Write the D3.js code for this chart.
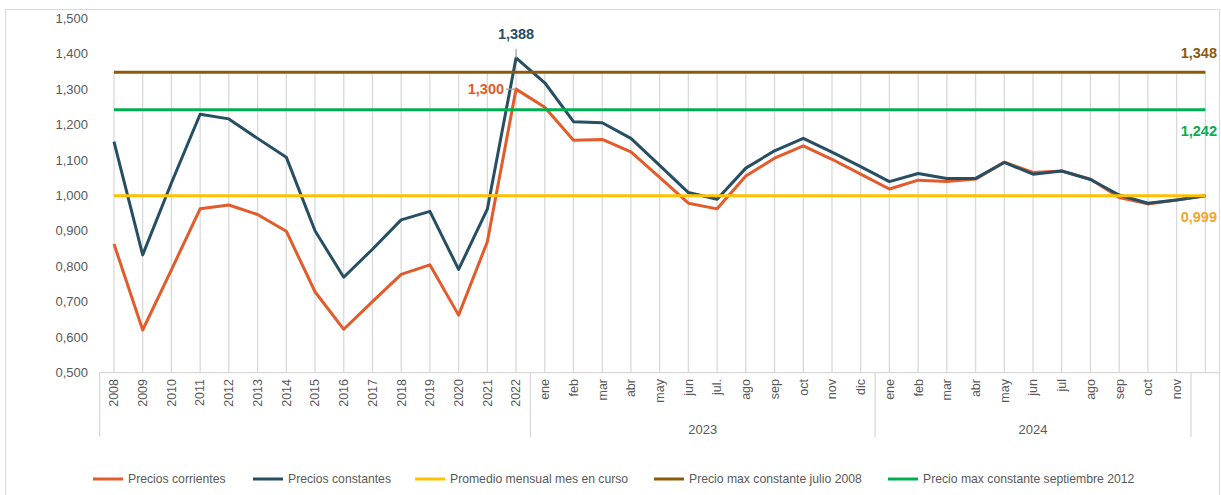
<!DOCTYPE html>
<html>
<head>
<meta charset="utf-8">
<script src="https://cdn.jsdelivr.net/npm/d3@7"></script>
<style>
  body { margin: 0; background: #fff; }
  text { font-family: "Liberation Sans", Arial, sans-serif; }
</style>
</head>
<body>
<div id="chart"></div>
<script>
// categories: yearly then monthly, last one has no label
var years = ["2008","2009","2010","2011","2012","2013","2014","2015","2016","2017","2018","2019","2020","2021","2022"];
var months2023 = ["ene","feb","mar","abr","may","jun","jul.","ago","sep","oct","nov","dic"];
var months2024 = ["ene","feb","mar","abr","may","jun","jul","ago","sep","oct","nov"];
var extra = [""];
var labels = years.concat(months2023, months2024, extra);

var corrientes = [0.863,0.620,0.790,0.962,0.973,0.946,0.899,0.728,0.622,0.700,0.777,0.804,0.662,0.869,1.300,
  1.249,1.156,1.158,1.123,1.051,0.978,0.962,1.055,1.105,1.140,1.102,1.060,
  1.018,1.043,1.039,1.046,1.094,1.065,1.069,1.046,0.994,0.976,0.987,
  0.999];
var constantes = [1.152,0.832,1.035,1.229,1.216,1.161,1.108,0.900,0.769,0.848,0.931,0.955,0.791,0.961,1.388,
  1.318,1.208,1.205,1.161,1.085,1.008,0.989,1.077,1.126,1.161,1.122,1.081,
  1.039,1.062,1.048,1.048,1.093,1.060,1.069,1.045,1.001,0.978,0.987,
  0.999];
var promedioMes = 0.999;
var maxJulio2008 = 1.348;
var maxSept2012 = 1.242;
var yTicks = [0.5,0.6,0.7,0.8,0.9,1.0,1.1,1.2,1.3,1.4,1.5];

var W = 1221, H = 495;
var svg = d3.select("#chart").append("svg").attr("width", W).attr("height", H);

// chart border
svg.append("rect").attr("x", 5.5).attr("y", 9.5).attr("width", 1214).attr("height", 500)
  .attr("fill", "none").attr("stroke", "#d9d9d9");

var idx = d3.range(labels.length);
var x = d3.scalePoint().domain(idx).range([99.6, 1219.7]).padding(0.5);
var y = d3.scaleLinear().domain([0.5, 1.5]).range([372.5, 18.3]);
var step = x.step();

var loc = d3.formatLocale({decimal: ",", thousands: ".", grouping: [3], currency: ["", ""]});
var fmt = loc.format(".3f");

var refLines = [
  {name: "Promedio mensual mes en curso", v: promedioMes, color: "#ffc000"},
  {name: "Precio max constante julio 2008", v: maxJulio2008, color: "#8c5a0a"},
  {name: "Precio max constante septiembre 2012", v: maxSept2012, color: "#00b050"}
];

// drop lines from highest value down to axis
svg.append("g").selectAll("line").data(idx).enter().append("line")
  .attr("x1", function(i) { return x(i); })
  .attr("x2", function(i) { return x(i); })
  .attr("y1", function(i) { return y(Math.max(corrientes[i], constantes[i], maxJulio2008)); })
  .attr("y2", y(0.5))
  .attr("stroke", "#d9d9d9").attr("stroke-width", 1.3);

// y axis labels
svg.append("g").selectAll("text").data(yTicks).enter().append("text")
  .attr("x", 88).attr("y", function(d) { return y(d); }).attr("dy", "0.35em")
  .attr("text-anchor", "end").attr("font-size", 13).attr("fill", "#595959")
  .text(function(d) { return fmt(d); });

// category axis
svg.append("line").attr("x1", 99.6).attr("x2", 1219.7).attr("y1", 372.7).attr("y2", 372.7)
  .attr("stroke", "#d9d9d9").attr("stroke-width", 1.3);
var dividers = [99.6, x(14) + step / 2, x(26) + step / 2, x(37) + step / 2];
svg.append("g").selectAll("line").data(dividers).enter().append("line")
  .attr("x1", function(d) { return d; }).attr("x2", function(d) { return d; })
  .attr("y1", 372.7).attr("y2", 437)
  .attr("stroke", "#d9d9d9").attr("stroke-width", 1.3);

svg.append("g").selectAll("text").data(idx).enter().append("text")
  .attr("transform", function(i) { return "translate(" + x(i) + ",379) rotate(-90)"; })
  .attr("dy", "0.35em").attr("text-anchor", "end")
  .attr("font-size", 12.5).attr("fill", "#595959")
  .text(function(i) { return labels[i]; });

var groups = [{label: "2023", a: 15, b: 26}, {label: "2024", a: 27, b: 37}];
svg.append("g").selectAll("text").data(groups).enter().append("text")
  .attr("x", function(g) { return (x(g.a) + x(g.b)) / 2; })
  .attr("y", 429).attr("dy", "0.35em").attr("text-anchor", "middle")
  .attr("font-size", 13).attr("fill", "#595959")
  .text(function(g) { return g.label; });

// series
var line = d3.line().x(function(d, i) { return x(i); }).y(function(d) { return y(d); });
svg.append("path").datum(corrientes).attr("d", line)
  .attr("fill", "none").attr("stroke", "#e35b2a").attr("stroke-width", 3).attr("stroke-linejoin", "round");
svg.append("path").datum(constantes).attr("d", line)
  .attr("fill", "none").attr("stroke", "#264f63").attr("stroke-width", 3).attr("stroke-linejoin", "round");

refLines.forEach(function(r) {
  svg.append("line").attr("x1", x(0)).attr("x2", x(idx.length - 1))
    .attr("y1", y(r.v)).attr("y2", y(r.v))
    .attr("stroke", r.color).attr("stroke-width", 3);
});

// data labels
var iMax = 14;
svg.append("line").attr("x1", x(iMax)).attr("x2", x(iMax)).attr("y1", 49).attr("y2", y(constantes[iMax]))
  .attr("stroke", "#a6a6a6").attr("stroke-width", 1.3);
svg.append("text").attr("x", x(iMax)).attr("y", 34).attr("dy", "0.35em").attr("text-anchor", "middle")
  .attr("font-size", 14.5).attr("font-weight", "bold").attr("fill", "#264f63")
  .text(fmt(constantes[iMax]));
svg.append("line").attr("x1", x(iMax) - 10).attr("x2", x(iMax)).attr("y1", y(corrientes[iMax])).attr("y2", y(corrientes[iMax]))
  .attr("stroke", "#a6a6a6").attr("stroke-width", 1.3);
svg.append("text").attr("x", x(iMax) - 12).attr("y", y(corrientes[iMax])).attr("dy", "0.35em").attr("text-anchor", "end")
  .attr("font-size", 14.5).attr("font-weight", "bold").attr("fill", "#e35b2a")
  .text(fmt(corrientes[iMax]));

var refLabels = [
  {v: maxJulio2008, y: 53, color: "#8c5a0a"},
  {v: maxSept2012, y: 131, color: "#00b050"},
  {v: promedioMes, y: 217, color: "#f5a623"}
];
svg.append("g").selectAll("text").data(refLabels).enter().append("text")
  .attr("x", 1217).attr("y", function(d) { return d.y; }).attr("dy", "0.35em").attr("text-anchor", "end")
  .attr("font-size", 14.5).attr("font-weight", "bold").attr("fill", function(d) { return d.color; })
  .text(function(d) { return fmt(d.v); });

// legend
var legend = [
  {name: "Precios corrientes", color: "#e35b2a", x: 93},
  {name: "Precios constantes", color: "#264f63", x: 253},
  {name: refLines[0].name, color: refLines[0].color, x: 415},
  {name: refLines[1].name, color: refLines[1].color, x: 654},
  {name: refLines[2].name, color: refLines[2].color, x: 888}
];
var lg = svg.append("g").selectAll("g").data(legend).enter().append("g")
  .attr("transform", function(d) { return "translate(" + d.x + ",479)"; });
lg.append("line").attr("x1", 0).attr("x2", 30).attr("stroke", function(d) { return d.color; }).attr("stroke-width", 3);
lg.append("text").attr("x", 35).attr("dy", "0.35em").attr("font-size", 12.2).attr("fill", "#595959")
  .text(function(d) { return d.name; });
</script>
</body>
</html>
